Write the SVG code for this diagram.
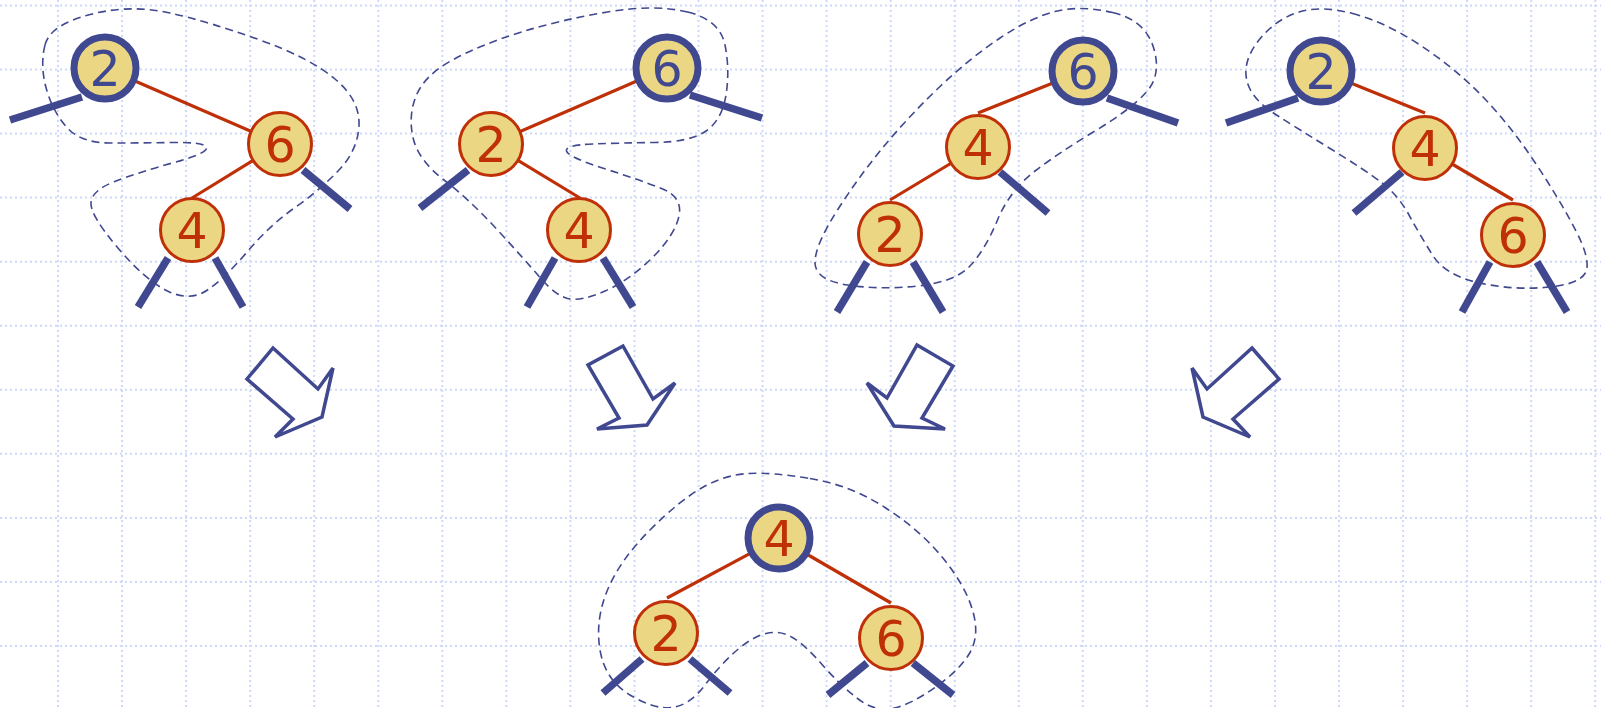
<svg xmlns="http://www.w3.org/2000/svg" width="1601" height="708" viewBox="0 0 1601 708">
<defs>
<style>
.grid line{stroke:#ccd9f8;stroke-width:2;stroke-dasharray:2 3}
.outline{fill:none;stroke:#404890;stroke-width:1.6;stroke-dasharray:8 5}
.edge{stroke:#c03008;stroke-width:3.2;fill:none}
.stub{stroke:#404890;stroke-width:7.5;fill:none}
.node circle{fill:#ebd783}
.root circle{stroke:#404890;stroke-width:7}
.child circle{stroke:#c03008;stroke-width:3}
.node text{font-family:"DejaVu Sans",Verdana,sans-serif;font-size:49px;text-anchor:middle}
.root text{fill:#404890}
.child text{fill:#c03008}
.r4 text{fill:#c03008}
.arrow{fill:#fff;stroke:#404890;stroke-width:3.5;stroke-linejoin:miter}
</style>
</defs>
<rect width="1601" height="708" fill="#fff"/>
<g class="grid">
<line x1="58" y1="0" x2="58" y2="708"/><line x1="122" y1="0" x2="122" y2="708"/><line x1="186.1" y1="0" x2="186.1" y2="708"/><line x1="250.2" y1="0" x2="250.2" y2="708"/><line x1="314.2" y1="0" x2="314.2" y2="708"/><line x1="378.3" y1="0" x2="378.3" y2="708"/><line x1="442.3" y1="0" x2="442.3" y2="708"/><line x1="506.4" y1="0" x2="506.4" y2="708"/><line x1="570.4" y1="0" x2="570.4" y2="708"/><line x1="634.5" y1="0" x2="634.5" y2="708"/><line x1="698.5" y1="0" x2="698.5" y2="708"/><line x1="762.6" y1="0" x2="762.6" y2="708"/><line x1="826.6" y1="0" x2="826.6" y2="708"/><line x1="890.7" y1="0" x2="890.7" y2="708"/><line x1="954.7" y1="0" x2="954.7" y2="708"/><line x1="1018.8" y1="0" x2="1018.8" y2="708"/><line x1="1082.8" y1="0" x2="1082.8" y2="708"/><line x1="1146.9" y1="0" x2="1146.9" y2="708"/><line x1="1210.9" y1="0" x2="1210.9" y2="708"/><line x1="1275" y1="0" x2="1275" y2="708"/><line x1="1339" y1="0" x2="1339" y2="708"/><line x1="1403.1" y1="0" x2="1403.1" y2="708"/><line x1="1467.1" y1="0" x2="1467.1" y2="708"/><line x1="1531.2" y1="0" x2="1531.2" y2="708"/><line x1="1595.2" y1="0" x2="1595.2" y2="708"/>
<line x1="0" y1="5.5" x2="1601" y2="5.5"/><line x1="0" y1="69.5" x2="1601" y2="69.5"/><line x1="0" y1="133.6" x2="1601" y2="133.6"/><line x1="0" y1="197.6" x2="1601" y2="197.6"/><line x1="0" y1="261.7" x2="1601" y2="261.7"/><line x1="0" y1="325.7" x2="1601" y2="325.7"/><line x1="0" y1="389.8" x2="1601" y2="389.8"/><line x1="0" y1="453.8" x2="1601" y2="453.8"/><line x1="0" y1="517.9" x2="1601" y2="517.9"/><line x1="0" y1="581.9" x2="1601" y2="581.9"/><line x1="0" y1="646" x2="1601" y2="646"/>
</g>
<g id="outlines">
<path class="outline" d="M45,45 Q50,25 90,14.5 Q130,4 170,13 Q210,22 260,40 Q310,58 335,79 Q360,100 359,125 Q358,150 339,170 Q320,190 295,207.5 Q270,225 247.5,251.5 Q225,278 207.5,290 Q190,302 167.5,291 Q145,280 117.5,247.5 Q90,215 91,202.5 Q92,190 116,181 Q140,172 174,162.5 Q208,153 206.5,147.5 Q205,142 172.5,142.5 Q140,143 110,143 Q80,143 66,126.5 Q52,110 46,87.5 Q40,65 45,45 Z"/>
<path class="outline" d="M687.5,12 Q720,20 725,45 Q730,70 726,95 Q722,120 706,131 Q690,142 655,142.5 Q620,143 592.5,144 Q565,145 566.5,151 Q568,157 604,168.5 Q640,180 661.5,188.5 Q683,197 679,216 Q675,235 652.5,257.5 Q630,280 605,291 Q580,302 567.5,298.5 Q555,295 540,277.5 Q525,260 497.5,230 Q470,200 444,180 Q418,160 413,137.5 Q408,115 416.5,95 Q425,75 452.5,60 Q480,45 520,32.5 Q560,20 607.5,12 Q655,4 687.5,12 Z"/>
<path class="outline" d="M1112.5,12.5 Q1145,20 1153.5,47.5 Q1162,75 1146,92.5 Q1130,110 1095,131 Q1060,152 1035,171 Q1010,190 997.5,220 Q985,250 970,266 Q955,282 917.5,286 Q880,290 847.5,285 Q815,280 815,262.5 Q815,245 837.5,210 Q860,175 885,145 Q910,115 940,86.5 Q970,58 1000,38 Q1030,18 1055,11.5 Q1080,5 1112.5,12.5 Z"/>
<path class="outline" d="M1352.5,13.5 Q1385,22 1420,45 Q1455,68 1482.5,96.5 Q1510,125 1535,162.5 Q1560,200 1576,231 Q1592,262 1585,273.5 Q1578,285 1544,287.5 Q1510,290 1477.5,282.5 Q1445,275 1432.5,255 Q1420,235 1409,215 Q1398,195 1381.5,182.5 Q1365,170 1332.5,150 Q1300,130 1275,114 Q1250,98 1246.5,79 Q1243,60 1259,40 Q1275,20 1297.5,12.5 Q1320,5 1352.5,13.5 Z"/>
<path class="outline" d="M810,478.5 Q850,485 885,507.5 Q920,530 942.5,557.5 Q965,585 972.5,610 Q980,635 970,652.5 Q960,670 935,687.5 Q910,705 892.5,708.5 Q875,712 857.5,698.5 Q840,685 822.5,665 Q805,645 792.5,637.5 Q780,630 766,633.5 Q752,637 736,651 Q720,665 705,685 Q690,705 672.5,707.5 Q655,710 630,695 Q605,680 600,650 Q595,620 607.5,590 Q620,560 650,530 Q680,500 702.5,487.5 Q725,475 747.5,473.5 Q770,472 810,478.5 Z"/>
</g>
<g id="connectors">
<line class="edge" x1="105" y1="68" x2="280" y2="144"/>
<line class="edge" x1="280" y1="144" x2="192" y2="198"/>
<line class="stub" x1="82" y1="97" x2="10" y2="120"/>
<line class="stub" x1="303" y1="170" x2="350" y2="209"/>
<line class="stub" x1="168" y1="258" x2="138" y2="307"/>
<line class="stub" x1="215" y1="258" x2="243" y2="307"/>
<line class="edge" x1="667" y1="68" x2="491" y2="144"/>
<line class="edge" x1="491" y1="144" x2="580" y2="198"/>
<line class="stub" x1="690" y1="95" x2="762" y2="118"/>
<line class="stub" x1="468" y1="170" x2="420" y2="208"/>
<line class="stub" x1="555" y1="258" x2="527" y2="307"/>
<line class="stub" x1="603" y1="258" x2="633" y2="307"/>
<line class="edge" x1="1083" y1="71" x2="978" y2="113"/>
<line class="edge" x1="978" y1="147" x2="890" y2="200"/>
<line class="stub" x1="1107" y1="98" x2="1178" y2="123"/>
<line class="stub" x1="1000" y1="172" x2="1048" y2="213"/>
<line class="stub" x1="867" y1="262" x2="837" y2="312"/>
<line class="stub" x1="913" y1="262" x2="943" y2="312"/>
<line class="edge" x1="1321" y1="71" x2="1425" y2="113"/>
<line class="edge" x1="1425" y1="148" x2="1513" y2="200"/>
<line class="stub" x1="1298" y1="98" x2="1226" y2="123"/>
<line class="stub" x1="1402" y1="172" x2="1354" y2="213"/>
<line class="stub" x1="1490" y1="262" x2="1462" y2="312"/>
<line class="stub" x1="1537" y1="262" x2="1567" y2="312"/>
<line class="edge" x1="779" y1="538" x2="667" y2="598"/>
<line class="edge" x1="779" y1="538" x2="891" y2="603"/>
<line class="stub" x1="642" y1="659" x2="603" y2="693"/>
<line class="stub" x1="690" y1="659" x2="730" y2="693"/>
<line class="stub" x1="867" y1="663" x2="828" y2="695"/>
<line class="stub" x1="913" y1="663" x2="953" y2="695"/>
</g>
<g id="t1-n2" class="node root"><circle cx="105" cy="68" r="31"/><text x="105" y="86">2</text></g>
<g id="t1-n6" class="node child"><circle cx="280" cy="144" r="31.5"/><text x="280" y="162">6</text></g>
<g id="t1-n4" class="node child"><circle cx="192" cy="230" r="31.5"/><text x="192" y="248">4</text></g>
<g id="t2-n6" class="node root"><circle cx="667" cy="68" r="31"/><text x="667" y="86">6</text></g>
<g id="t2-n2" class="node child"><circle cx="491" cy="144" r="31.5"/><text x="491" y="162">2</text></g>
<g id="t2-n4" class="node child"><circle cx="579" cy="230" r="31.5"/><text x="579" y="248">4</text></g>
<g id="t3-n6" class="node root"><circle cx="1083" cy="71" r="31"/><text x="1083" y="89">6</text></g>
<g id="t3-n4" class="node child"><circle cx="978" cy="147" r="31.5"/><text x="978" y="165">4</text></g>
<g id="t3-n2" class="node child"><circle cx="890" cy="234" r="31.5"/><text x="890" y="252">2</text></g>
<g id="t4-n2" class="node root"><circle cx="1321" cy="71" r="31"/><text x="1321" y="89">2</text></g>
<g id="t4-n4" class="node child"><circle cx="1425" cy="148" r="31.5"/><text x="1425" y="166">4</text></g>
<g id="t4-n6" class="node child"><circle cx="1513" cy="235" r="31.5"/><text x="1513" y="253">6</text></g>
<g id="t5-n4" class="node root r4"><circle cx="779" cy="538" r="31"/><text x="779" y="556">4</text></g>
<g id="t5-n2" class="node child"><circle cx="666" cy="633" r="31.5"/><text x="666" y="651">2</text></g>
<g id="t5-n6" class="node child"><circle cx="891" cy="638" r="31.5"/><text x="891" y="656">6</text></g>
<g id="arrows">
<polygon class="arrow" points="273,348 318,389 333,368 322,417 275,437 293,419 247,379"/>
<polygon class="arrow" points="623,346 653,399 675,383 647,425 597,429 619,418 588,365"/>
<polygon class="arrow" points="917,345 953,366 922,418 945,429 894,426 867,383 887,398"/>
<polygon class="arrow" points="1252,348 1279,379 1233,419 1250,437 1203,417 1192,368 1207,389"/>
</g>
</svg>
